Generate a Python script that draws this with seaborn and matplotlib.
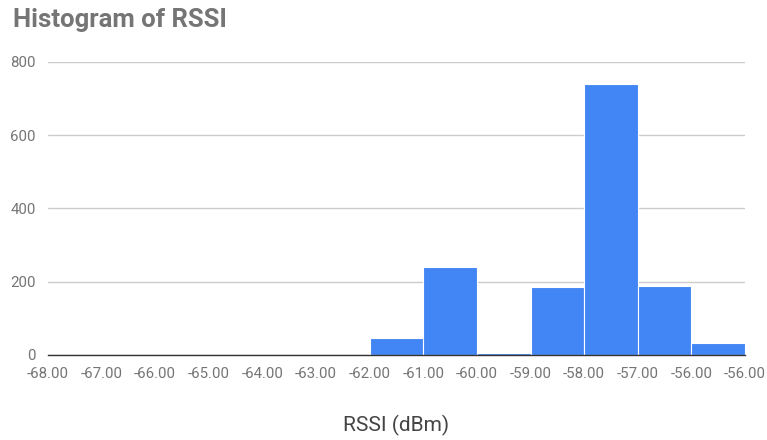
import numpy as np
import pandas as pd
import matplotlib
matplotlib.use("Agg")
import matplotlib.pyplot as plt
import seaborn as sns

# Bucket boundary labels along the x axis (as shown by the spreadsheet histogram)
tick_labels = ["-68.00", "-67.00", "-66.00", "-65.00", "-64.00", "-63.00", "-62.00",
               "-61.00", "-60.00", "-59.00", "-58.00", "-57.00", "-56.00", "-56.00"]
# Bucket index (between consecutive boundary labels) and the count in that bucket
bucket_index = [6, 7, 8, 9, 10, 11, 12]
bucket_count = [46, 241, 5, 185, 738, 188, 32]
y_ticks = [0, 200, 400, 600, 800]

df = pd.DataFrame({"bucket": bucket_index, "count": bucket_count})

sns.set_theme(style="white")
plt.rcParams["font.family"] = ["Roboto", "DejaVu Sans"]

fig = plt.figure(figsize=(7.67, 4.40), dpi=100)
ax = fig.add_axes([48 / 767, 1 - 355 / 440, (745 - 48) / 767, (355 - 61.7) / 440])

n_buckets = len(tick_labels) - 1
sns.histplot(data=df, x="bucket", weights="count", binwidth=1,
             binrange=(0, n_buckets), color="#4285F4", alpha=1,
             edgecolor="white", linewidth=0.8, ax=ax)

ax.set_xlim(0, n_buckets)
ax.set_ylim(0, 800)
ax.set_xticks(np.arange(len(tick_labels)))
ax.set_xticklabels(tick_labels)
ax.set_yticks(y_ticks)
ax.set_yticklabels([str(v) for v in y_ticks])

ax.yaxis.grid(True, color="#cccccc", linewidth=1)
ax.set_axisbelow(True)
for side in ["top", "right", "left"]:
    ax.spines[side].set_visible(False)
ax.spines["bottom"].set_color("#333333")
ax.spines["bottom"].set_linewidth(1.0)
ax.spines["bottom"].set_zorder(5)

ax.tick_params(axis="both", length=0, labelsize=10.8, labelcolor="#757575")
ax.tick_params(axis="x", pad=9)
ax.tick_params(axis="y", pad=9)

ax.set_ylabel("")
ax.set_xlabel("RSSI (dBm)", fontsize=15, color="#444444", labelpad=24)

fig.text(13 / 767, 1 - 20 / 440, "Histogram of RSSI", fontsize=18.5, fontweight="bold",
         color="#757575", ha="left", va="center")

fig.savefig("out.png", dpi=100)
